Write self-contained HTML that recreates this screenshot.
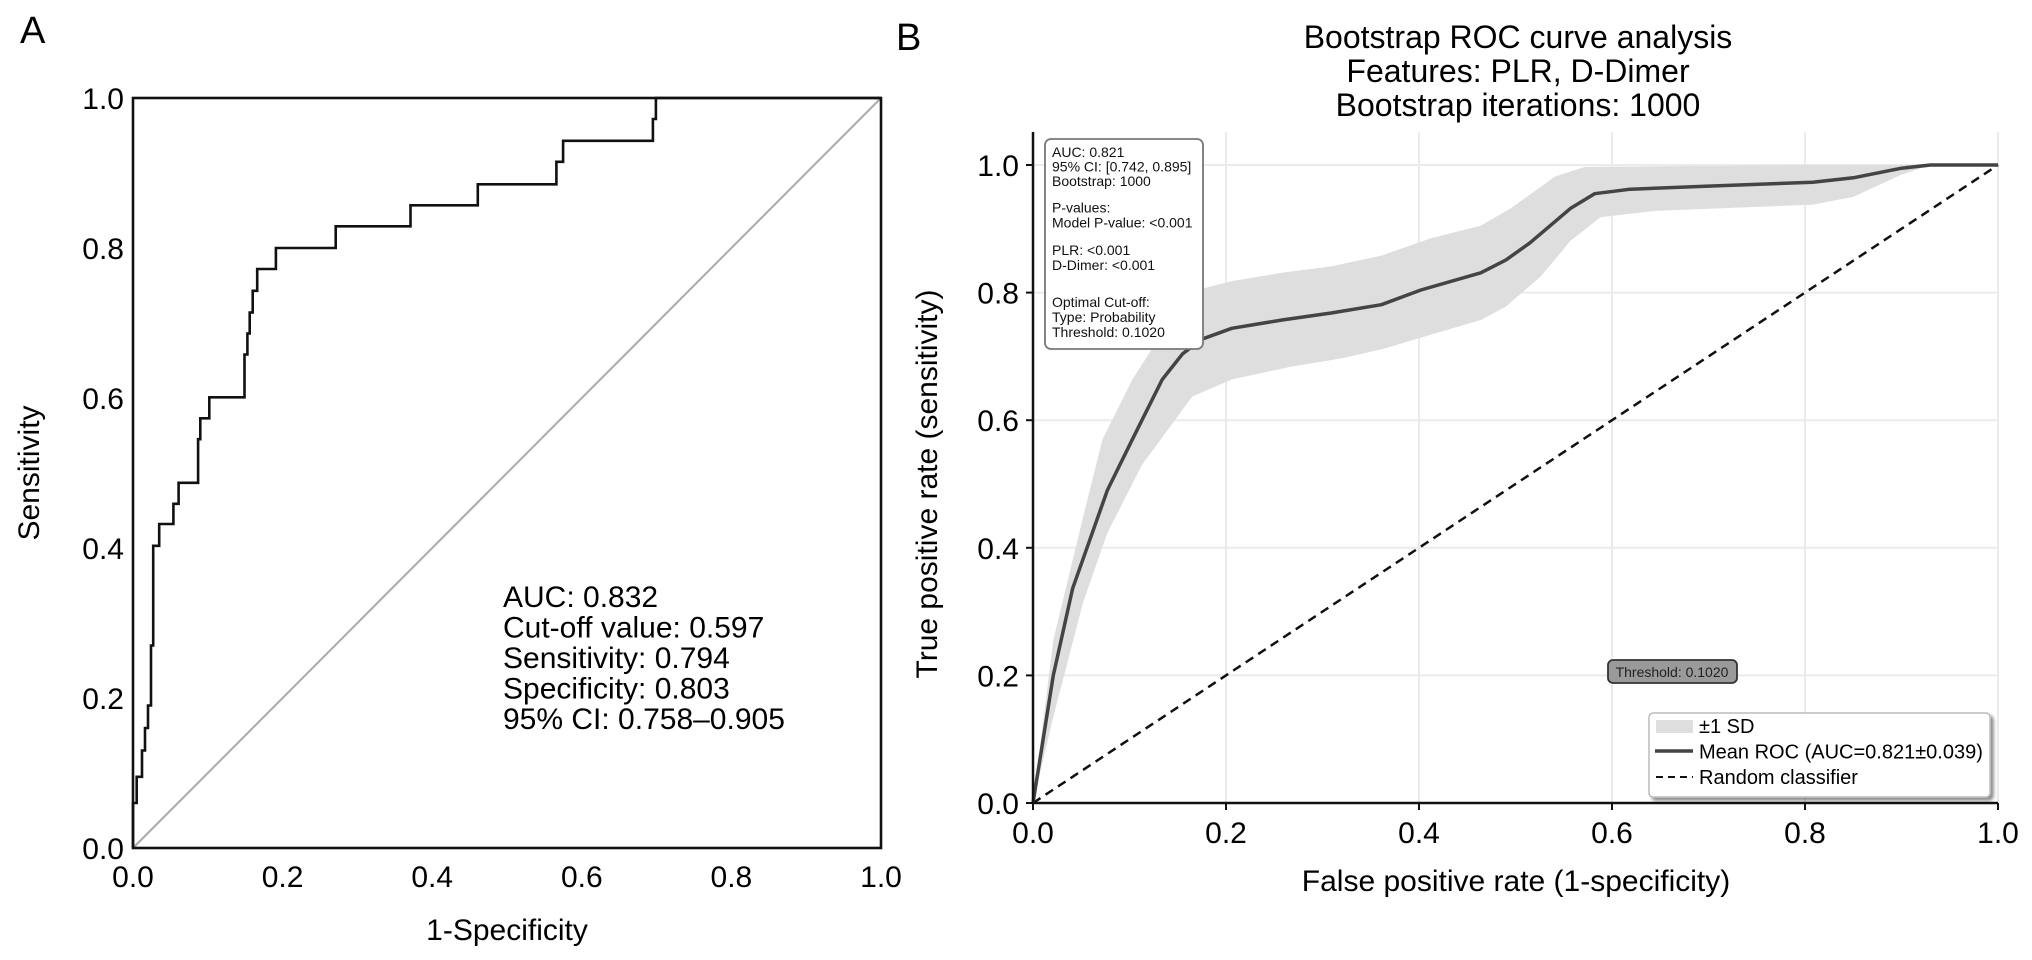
<!DOCTYPE html>
<html><head><meta charset="utf-8">
<style>
html,body{margin:0;padding:0;background:#fff;}
svg{display:block;font-family:"Liberation Sans",Arial,sans-serif;}
</style></head>
<body>
<svg id="fig" width="2032" height="960" viewBox="0 0 2032 960" xmlns="http://www.w3.org/2000/svg">
<defs>
<filter id="sh" x="-5%" y="-5%" width="115%" height="130%"><feOffset dx="3" dy="3" in="SourceAlpha" result="o"/><feGaussianBlur in="o" stdDeviation="1.5" result="b"/><feComponentTransfer in="b" result="c"><feFuncA type="linear" slope="0.45"/></feComponentTransfer><feMerge><feMergeNode in="c"/><feMergeNode in="SourceGraphic"/></feMerge></filter>
</defs>
<text x="20" y="43" font-size="38">A</text>
<text x="896" y="50" font-size="38">B</text>
<g id="pa"></g>
<g id="pb"></g>
</svg>
<script>
// ---------- Panel A data ----------
const aFpr = [0,0,0.005,0.005,0.012,0.012,0.016,0.016,0.02,0.02,0.024,0.024,0.027,0.027,0.035,0.035,0.054,0.054,0.061,0.061,0.087,0.087,0.09,0.09,0.102,0.102,0.149,0.149,0.153,0.153,0.156,0.156,0.160,0.160,0.166,0.166,0.191,0.191,0.271,0.271,0.371,0.371,0.461,0.461,0.566,0.566,0.575,0.575,0.695,0.695,0.699,0.699,1.0];
const aTpr = [0,0.06,0.06,0.095,0.095,0.13,0.13,0.16,0.16,0.19,0.19,0.27,0.27,0.403,0.403,0.432,0.432,0.459,0.459,0.487,0.487,0.545,0.545,0.573,0.573,0.601,0.601,0.658,0.658,0.686,0.686,0.714,0.714,0.743,0.743,0.772,0.772,0.800,0.800,0.829,0.829,0.857,0.857,0.885,0.885,0.915,0.915,0.943,0.943,0.972,0.972,1.0,1.0];
const aTicks = [0,0.2,0.4,0.6,0.8,1.0];
const aTickLabels = ["0.0","0.2","0.4","0.6","0.8","1.0"];
const aStats = ["AUC: 0.832","Cut-off value: 0.597","Sensitivity: 0.794","Specificity: 0.803","95% CI: 0.758\u20130.905"];
// ---------- Panel B data ----------
const bMeanX = [0,0.021,0.041,0.077,0.103,0.134,0.155,0.175,0.206,0.258,0.309,0.361,0.402,0.464,0.49,0.515,0.557,0.582,0.619,0.7,0.808,0.85,0.9,0.93,1.0];
const bMeanY = [0,0.20,0.336,0.49,0.57,0.664,0.704,0.727,0.744,0.757,0.768,0.781,0.804,0.831,0.851,0.878,0.932,0.955,0.962,0.967,0.973,0.98,0.995,1.0,1.0];
const bUpX = [0,0.021,0.052,0.072,0.103,0.134,0.17,0.206,0.258,0.309,0.361,0.412,0.464,0.495,0.541,0.572,0.808,1.0];
const bUpY = [0,0.255,0.449,0.57,0.664,0.737,0.804,0.818,0.831,0.841,0.858,0.885,0.905,0.932,0.982,0.997,1.0,1.0];
const bLoX = [0,0.021,0.052,0.077,0.113,0.165,0.206,0.268,0.32,0.361,0.412,0.464,0.49,0.526,0.557,0.588,0.644,0.808,0.85,0.9,0.93,1.0];
const bLoY = [0,0.135,0.315,0.423,0.53,0.637,0.664,0.684,0.697,0.711,0.734,0.757,0.778,0.825,0.881,0.918,0.928,0.938,0.95,0.985,1.0,1.0];
const bTicks = [0,0.2,0.4,0.6,0.8,1.0];
const bTickLabels = ["0.0","0.2","0.4","0.6","0.8","1.0"];
const bInfo = [["AUC: 0.821",152],["95% CI: [0.742, 0.895]",166.5],["Bootstrap: 1000",181],["P-values:",207.5],["Model P-value: <0.001",222.5],["PLR: <0.001",250],["D-Dimer: <0.001",265],["Optimal Cut-off:",302],["Type: Probability",317],["Threshold: 0.1020",332]];
const bLegend = ["\u00b11 SD","Mean ROC (AUC=0.821\u00b10.039)","Random classifier"];

const NS="http://www.w3.org/2000/svg";
function mk(parent,tag,attrs,txt){const e=document.createElementNS(NS,tag);for(const k in attrs)e.setAttribute(k,attrs[k]);if(txt!==undefined)e.textContent=txt;parent.appendChild(e);return e;}

// ---------- Panel A ----------
(function(){
 const g=document.getElementById('pa');
 const X0=133,X1=881,Y0=848,Y1=98;
 const sx=v=>X0+v*(X1-X0), sy=v=>Y0-v*(Y0-Y1);
 const diag=mk(g,'line',{x1:sx(0),y1:sy(0),x2:sx(1),y2:sy(1),stroke:'#aaa','stroke-width':2});
 
 
 let d='';aFpr.forEach((v,i)=>{d+=(i?'L':'M')+sx(v).toFixed(1)+','+sy(aTpr[i]).toFixed(1);});
 const roc=mk(g,'path',{d:d,fill:'none',stroke:'#111','stroke-width':2.6});
 
 
 const fr=mk(g,'rect',{x:X0,y:Y1,width:X1-X0,height:Y0-Y1,fill:'none',stroke:'#111','stroke-width':2.6});
 
 
 aTicks.forEach((t,i)=>{
  const tx=mk(g,'text',{x:sx(t),y:887,'font-size':30,'text-anchor':'middle'},aTickLabels[i]);
  
  
  const ty=mk(g,'text',{x:124,y:sy(t)+11,'font-size':30,'text-anchor':'end'},aTickLabels[i]);
  
  
 });
 const xl=mk(g,'text',{x:507,y:940,'font-size':30,'text-anchor':'middle'},'1-Specificity');
 
 
 const yl=mk(g,'text',{x:0,y:0,'font-size':30,'text-anchor':'middle',transform:'translate(39,473) rotate(-90)'},'Sensitivity');
 
 
 aStats.forEach((s,i)=>{
  const t=mk(g,'text',{x:503,y:607+i*30.5,'font-size':30},s);
  
  
 });
})();

// ---------- Panel B ----------
(function(){
 const g=document.getElementById('pb');
 const X0=1033,X1=1998,Y0=803,Y1=165;
 const sx=v=>X0+v*(X1-X0), sy=v=>Y0-v*(Y0-Y1);
 const TOP=132;
 ["Bootstrap ROC curve analysis","Features: PLR, D-Dimer","Bootstrap iterations: 1000"].forEach((s,i)=>{
  const t=mk(g,'text',{x:1518,y:48+i*34,'font-size':32,'text-anchor':'middle'},s);
  
  
 });
 bTicks.forEach(t=>{
  if(t>0){const gl=mk(g,'line',{x1:sx(t),y1:TOP,x2:sx(t),y2:Y0,stroke:'#ebebeb','stroke-width':2});
  
  }
  const gh=mk(g,'line',{x1:X0,y1:sy(t),x2:X1,y2:sy(t),stroke:'#ebebeb','stroke-width':2});
  
  
 });
 let d='';bUpX.forEach((v,i)=>{d+=(i?'L':'M')+sx(v).toFixed(1)+','+sy(bUpY[i]).toFixed(1);});
 for(let i=bLoX.length-1;i>=0;i--){d+='L'+sx(bLoX[i]).toFixed(1)+','+sy(bLoY[i]).toFixed(1);}
 const band=mk(g,'path',{d:d+'Z',fill:'#dedede',stroke:'none'});
 
 
 const rnd=mk(g,'line',{x1:sx(0),y1:sy(0),x2:sx(1),y2:sy(1),stroke:'#111','stroke-width':2.5,'stroke-dasharray':'9,6'});
 
 
 let m='';bMeanX.forEach((v,i)=>{m+=(i?'L':'M')+sx(v).toFixed(1)+','+sy(bMeanY[i]).toFixed(1);});
 const mean=mk(g,'path',{d:m,fill:'none',stroke:'#444','stroke-width':3.5,'stroke-linejoin':'round'});
 
 
 const ax=mk(g,'path',{d:`M${X0},${TOP}L${X0},${Y0}L${X1},${Y0}`,fill:'none',stroke:'#111','stroke-width':2.5});
 
 
 bTicks.forEach((t,i)=>{
  mk(g,'line',{x1:sx(t),y1:Y0,x2:sx(t),y2:Y0+7,stroke:'#111','stroke-width':2});
  mk(g,'line',{x1:X0-7,y1:sy(t),x2:X0,y2:sy(t),stroke:'#111','stroke-width':2});
  const tx=mk(g,'text',{x:sx(t),y:843,'font-size':30,'text-anchor':'middle'},bTickLabels[i]);
  
  
  const ty=mk(g,'text',{x:1019,y:sy(t)+11,'font-size':30,'text-anchor':'end'},bTickLabels[i]);
  
  
 });
 const xl=mk(g,'text',{x:1516,y:891,'font-size':30,'text-anchor':'middle'},'False positive rate (1-specificity)');
 
 
 const yl=mk(g,'text',{x:0,y:0,'font-size':30,'text-anchor':'middle',transform:'translate(937,484) rotate(-90)'},'True positive rate (sensitivity)');
 
 
 const ib=mk(g,'rect',{x:1045,y:139,width:158,height:210,rx:6,fill:'#fff',stroke:'#777','stroke-width':1.8});
 
 
 bInfo.forEach(r=>{
  const t=mk(g,'text',{x:1052,y:r[1]+5,'font-size':14,fill:'#111'},r[0]);
  
  
 });
 const th=mk(g,'rect',{x:1608,y:660,width:129,height:23,rx:5,fill:'#9a9a9a',stroke:'#333','stroke-width':1.8});
 
 
 const tt=mk(g,'text',{x:1672,y:677,'font-size':14,'text-anchor':'middle',fill:'#222'},'Threshold: 0.1020');
 
 
 const lg=mk(g,'rect',{x:1649,y:713,width:341,height:84,rx:4,fill:'#fff',stroke:'#bbb','stroke-width':1.5,filter:'url(#sh)'});
 
 
 mk(g,'rect',{x:1656,y:720,width:37,height:13,fill:'#dedede'});
 mk(g,'line',{x1:1655,y1:751,x2:1693,y2:751,stroke:'#444','stroke-width':3.5});
 mk(g,'line',{x1:1656,y1:777,x2:1693,y2:777,stroke:'#111','stroke-width':2,'stroke-dasharray':'7,5'});
 bLegend.forEach((s,i)=>{
  const t=mk(g,'text',{x:1699,y:733+i*25.5,'font-size':20},s);
  
  
 });
})();
</script>
</body></html>
